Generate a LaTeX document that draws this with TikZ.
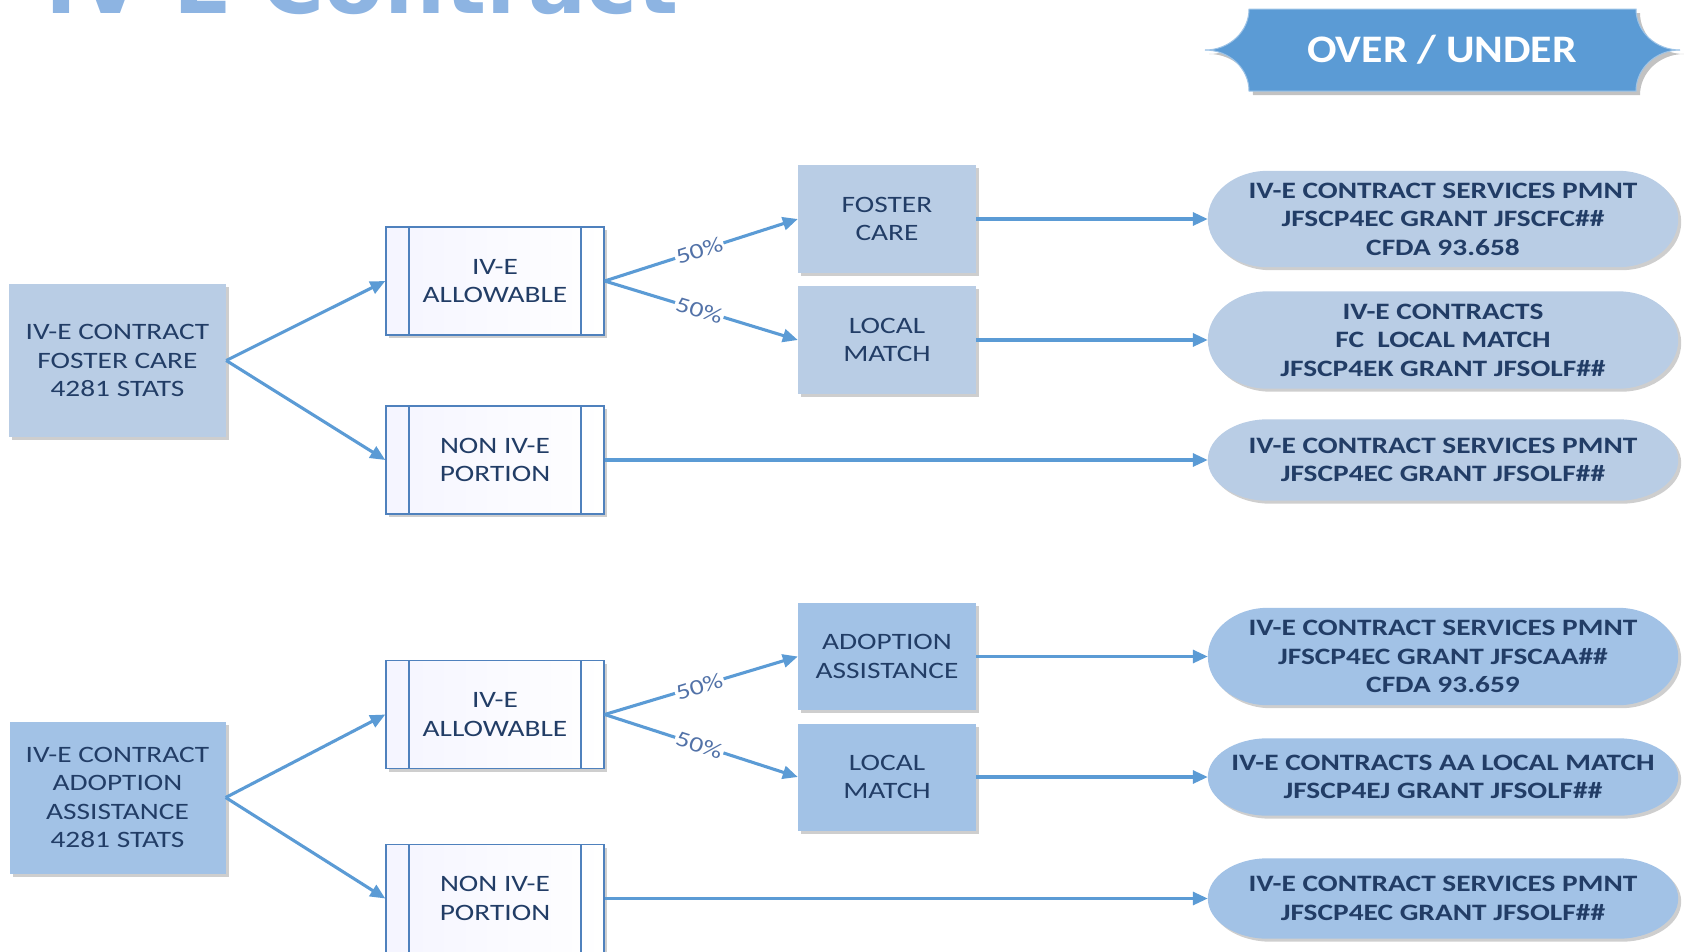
\documentclass[tikz,border=0pt]{standalone}
\usepackage{fontspec}
\setmainfont{Carlito}
\newfontfamily\cf{Carlito}[FakeStretch=1.25]
\newfontfamily\bannerfont{Carlito}[FakeStretch=1.12]
\newfontfamily\titlefont{DejaVu Sans}
\usetikzlibrary{shadows,calc,arrows.meta,backgrounds}
\definecolor{boxA}{HTML}{B9CDE5}
\definecolor{boxB}{HTML}{A2C2E6}
\definecolor{arrowc}{HTML}{5B9BD5}
\definecolor{txt}{HTML}{223D66}
\definecolor{edgec}{HTML}{4F81BD}
\definecolor{titlec}{HTML}{8DB4E2}
\definecolor{bannerc}{HTML}{5B9BD5}
\definecolor{pctc}{HTML}{5272A8}
\newcommand\pillbg[2]{%
  \fill[#2, shad] let \p1=(#1.north west), \p2=(#1.south east), \p3=(#1.west) in
   (\x1+60pt,\y1) -- (\x2-60pt,\y1)
   .. controls (\x2-26.9pt,\y1) and (\x2,{\y3+0.552*(\y1-\y3)}) .. (\x2,\y3)
   .. controls (\x2,{\y3-0.552*(\y1-\y3)}) and (\x2-26.9pt,\y2) .. (\x2-60pt,\y2)
   -- (\x1+60pt,\y2)
   .. controls (\x1+26.9pt,\y2) and (\x1,{\y3-0.552*(\y1-\y3)}) .. (\x1,\y3)
   .. controls (\x1,{\y3+0.552*(\y1-\y3)}) and (\x1+26.9pt,\y1) .. (\x1+60pt,\y1) -- cycle;}
\begin{document}
\begin{tikzpicture}[x=1pt,y=-1pt,
  shad/.style={drop shadow={shadow xshift=3pt,shadow yshift=-3pt,opacity=0.35,fill=black!55}},
  boxtext/.style={text=txt, align=center, inner sep=0pt, font=\cf\fontsize{23.5}{28.5}\selectfont},
  bluebox/.style={rectangle, fill=#1, shad, boxtext},
  procbox/.style={rectangle, draw=edgec, line width=1.4pt, minimum width=218pt, minimum height=108pt,
    left color=blue!4!white, right color=white, shad, boxtext,
    path picture={\draw[edgec, line width=1.2pt]
      ([xshift=23pt]path picture bounding box.north west) -- ([xshift=23pt]path picture bounding box.south west)
      ([xshift=-23pt]path picture bounding box.north east) -- ([xshift=-23pt]path picture bounding box.south east);}},
  pill/.style={rectangle, minimum width=470pt, text=txt, align=center, inner sep=0pt,
    font=\cf\bfseries\fontsize{23.5}{28.5}\selectfont},
  arr/.style={draw=arrowc, line width=3.1pt, -{Triangle[length=15pt,width=13pt]}},
  pct/.style={fill=white, inner sep=1.5pt, text=pctc, font=\cf\fontsize{22}{22}\selectfont, sloped, pos=0.49}
]
\useasboundingbox (0,0) rectangle (1684,951);

% title
\node[anchor=base west, inner sep=0pt, text=titlec, font=\titlefont\bfseries\fontsize{86}{86}\selectfont] (title) at (45,13) {IV-E Contract};

% banner
\fill[bannerc, draw=arrowc!60!white, line width=1pt, drop shadow={shadow xshift=4pt,shadow yshift=-4pt,opacity=0.4,fill=black!60}]
  (1249,9) -- (1636,9) .. controls (1636,31.6) and (1655.7,50) .. (1680,50)
  .. controls (1655.7,50) and (1636,68.4) .. (1636,91) -- (1249,91)
  .. controls (1249,68.4) and (1229.3,50) .. (1205,50)
  .. controls (1229.3,50) and (1249,31.6) .. (1249,9) -- cycle;
\node[text=white, inner sep=0pt, font=\bannerfont\bfseries\fontsize{39}{39}\selectfont] (banner) at (1442,50) {OVER / UNDER};

% ---- top section
\node[bluebox=boxA, minimum width=217pt, minimum height=153pt] (src1) at (117.5,360.5) {IV-E CONTRACT\\FOSTER CARE\\4281 STATS};
\node[procbox] (al1) at (495,281) {IV-E\\ALLOWABLE};
\node[procbox] (non1) at (495,460) {NON IV-E\\PORTION};
\node[bluebox=boxA, minimum width=178pt, minimum height=108pt] (fc) at (887,219) {FOSTER\\CARE};
\node[bluebox=boxA, minimum width=178pt, minimum height=108pt] (lm1) at (887,340) {LOCAL\\MATCH};
\node[pill, minimum height=96pt] (p1) at (1443,219) {IV-E CONTRACT SERVICES PMNT\\JFSCP4EC GRANT JFSCFC\#\#\\CFDA 93.658};
\node[pill, minimum height=97pt] (p2) at (1443,340) {IV-E CONTRACTS\\FC~ LOCAL MATCH\\JFSCP4EK GRANT JFSOLF\#\#};
\node[pill, minimum height=81pt] (p3) at (1443,460) {IV-E CONTRACT SERVICES PMNT\\JFSCP4EC GRANT JFSOLF\#\#};

% ---- bottom section
\node[bluebox=boxB, minimum width=216pt, minimum height=152pt] (src2) at (117.5,797.5) {IV-E CONTRACT\\ADOPTION\\ASSISTANCE\\4281 STATS};
\node[procbox] (al2) at (495,714.5) {IV-E\\ALLOWABLE};
\node[procbox] (non2) at (495,898.5) {NON IV-E\\PORTION};
\node[bluebox=boxB, minimum width=178pt, minimum height=107pt] (aa) at (887,656.5) {ADOPTION\\ASSISTANCE};
\node[bluebox=boxB, minimum width=178pt, minimum height=107pt] (lm2) at (887,777) {LOCAL\\MATCH};
\node[pill, minimum height=97pt] (p4) at (1443,656.5) {IV-E CONTRACT SERVICES PMNT\\JFSCP4EC GRANT JFSCAA\#\#\\CFDA 93.659};
\node[pill, minimum height=77pt] (p5) at (1443,777) {IV-E CONTRACTS AA LOCAL MATCH\\JFSCP4EJ GRANT JFSOLF\#\#};
\node[pill, minimum height=80pt] (p6) at (1443,898.5) {IV-E CONTRACT SERVICES PMNT\\JFSCP4EC GRANT JFSOLF\#\#};

\begin{scope}[on background layer]
  \pillbg{p1}{boxA}
  \pillbg{p2}{boxA}
  \pillbg{p3}{boxA}
  \pillbg{p4}{boxB}
  \pillbg{p5}{boxB}
  \pillbg{p6}{boxB}
\end{scope}

% connectors
\draw[arr] (src1.east) -- (al1.west);
\draw[arr] (src1.east) -- (non1.west);
\draw[arr] (al1.east) -- node[pct]{50\%} (fc.west);
\draw[arr] (al1.east) -- node[pct]{50\%} (lm1.west);
\draw[arr] (fc.east) -- (p1.west);
\draw[arr] (lm1.east) -- (p2.west);
\draw[arr] (non1.east) -- (p3.west);

\draw[arr] (src2.east) -- (al2.west);
\draw[arr] (src2.east) -- (non2.west);
\draw[arr] (al2.east) -- node[pct]{50\%} (aa.west);
\draw[arr] (al2.east) -- node[pct]{50\%} (lm2.west);
\draw[arr] (aa.east) -- (p4.west);
\draw[arr] (lm2.east) -- (p5.west);
\draw[arr] (non2.east) -- (p6.west);
\end{tikzpicture}
\end{document}
